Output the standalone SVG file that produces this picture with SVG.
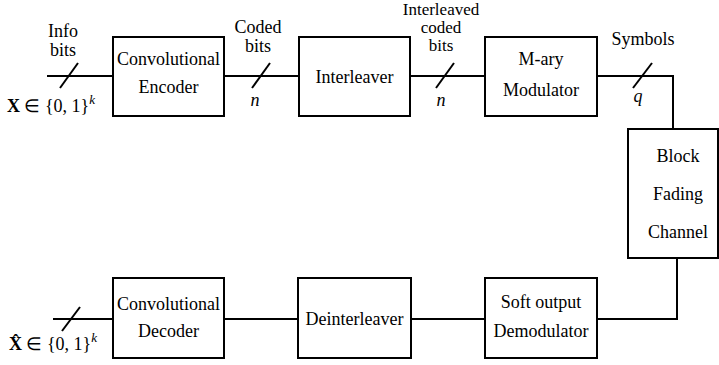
<svg xmlns="http://www.w3.org/2000/svg" width="719" height="365" viewBox="0 0 719 365">
<style>
.box{fill:#fff;stroke:#000;stroke-width:2}
.ln{fill:none;stroke:#000;stroke-width:2}
text{font-family:"Liberation Serif","Times New Roman",serif;font-size:18px;fill:#000;text-anchor:middle}
.it{font-style:italic}
.bf{font-weight:bold}
.sm{font-size:17px}
</style>
<rect width="719" height="365" fill="#fff"/>
<g id="connectors">
<path class="ln" d="M47 76H113"/>
<path class="ln" d="M60 88L78 63"/>
<path class="ln" d="M224 76H299"/>
<path class="ln" d="M252 88L270 63"/>
<path class="ln" d="M410 76H485"/>
<path class="ln" d="M436 88L454 63"/>
<path class="ln" d="M597 76H673V129"/>
<path class="ln" d="M633 88L652 63"/>
<path class="ln" d="M677 258V319H597"/>
<path class="ln" d="M485 319H411"/>
<path class="ln" d="M298 319H224"/>
<path class="ln" d="M113 319H53"/>
<path class="ln" d="M62 331L80 307"/>
</g>
<g id="labels">
<text x="63" y="37">Info</text>
<text x="63" y="56">bits</text>
<text x="51" y="112"><tspan class="bf">X</tspan> ∈ {0, 1}<tspan class="it" font-size="13" dy="-8">k</tspan></text>
<text x="258" y="33">Coded</text>
<text x="258" y="52">bits</text>
<text class="it" x="255" y="106">n</text>
<text class="sm" x="441" y="15">Interleaved</text>
<text class="sm" x="441" y="33">coded</text>
<text class="sm" x="441" y="51">bits</text>
<text class="it" x="441" y="106">n</text>
<text x="643" y="45">Symbols</text>
<text class="it" x="638" y="102">q</text>
<text x="53" y="350"><tspan class="bf">X̂</tspan> ∈ {0, 1}<tspan class="it" font-size="13" dy="-8">k</tspan></text>
</g>
<g id="encoder">
<rect class="box" x="113" y="37" width="111" height="79"/>
<text x="168.5" y="65">Convolutional</text>
<text x="168.5" y="93">Encoder</text>
</g>
<g id="interleaver">
<rect class="box" x="299" y="37" width="111" height="79"/>
<text x="354.5" y="83">Interleaver</text>
</g>
<g id="modulator">
<rect class="box" x="485" y="37" width="112" height="79"/>
<text x="541" y="65">M-ary</text>
<text x="541" y="96">Modulator</text>
</g>
<g id="channel">
<rect class="box" x="628" y="129" width="90" height="129"/>
<text x="678" y="162">Block</text>
<text x="678" y="200">Fading</text>
<text x="678" y="238">Channel</text>
</g>
<g id="demodulator">
<rect class="box" x="485" y="278" width="112" height="80"/>
<text x="541" y="308">Soft output</text>
<text x="541" y="337">Demodulator</text>
</g>
<g id="deinterleaver">
<rect class="box" x="298" y="278" width="113" height="80"/>
<text x="354.5" y="325">Deinterleaver</text>
</g>
<g id="decoder">
<rect class="box" x="113" y="278" width="111" height="80"/>
<text x="168.5" y="310">Convolutional</text>
<text x="168.5" y="337">Decoder</text>
</g>
</svg>
